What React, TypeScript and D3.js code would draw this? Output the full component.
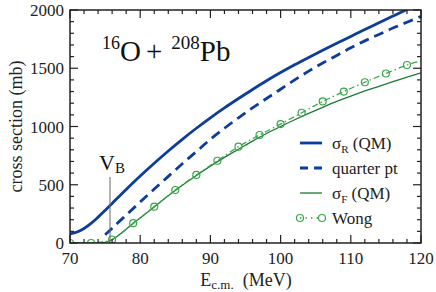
import React, { useEffect, useRef } from "react";
import * as d3 from "d3";

// sigma_R (QM) - thick solid blue
const sigmaRE = [70, 71, 72, 73, 74, 75, 76, 78, 80, 82, 84, 86, 88, 90, 92, 94, 96, 98, 100, 102, 104, 106, 108, 110, 112, 114, 116, 118, 120];
const sigmaR = [78, 95, 125, 168, 222, 280, 340, 460, 575, 685, 790, 890, 985, 1075, 1160, 1240, 1318, 1393, 1463, 1530, 1593, 1654, 1714, 1773, 1832, 1890, 1948, 2005, 2060];

// quarter point recipe - dashed blue
const quarterE = [75, 76, 78, 80, 82, 84, 86, 88, 90, 92, 94, 96, 98, 100, 102, 104, 106, 108, 110, 112, 114, 116, 118, 120];
const quarter = [70, 127, 240, 352, 463, 572, 680, 785, 890, 985, 1075, 1160, 1240, 1320, 1400, 1475, 1545, 1610, 1675, 1735, 1790, 1845, 1895, 1945];

// sigma_F (QM) - thin solid green
const sigmaFE = [70, 72, 74, 75, 76, 77, 78, 79, 80, 82, 84, 86, 88, 90, 92, 94, 96, 98, 100, 102, 104, 106, 108, 110, 112, 114, 116, 118, 120];
const sigmaF = [0, 0, 1, 6, 28, 70, 118, 168, 215, 310, 405, 495, 580, 660, 735, 805, 875, 940, 1000, 1058, 1113, 1165, 1215, 1260, 1305, 1345, 1385, 1423, 1460];

// Wong formula - markers every 3 MeV, line runs to the frame
const wongE = [70, 73, 76, 79, 82, 85, 88, 91, 94, 97, 100, 103, 106, 109, 112, 115, 118];
const wong = [0, 0, 30, 170, 312, 455, 584, 706, 827, 927, 1021, 1118, 1215, 1300, 1380, 1455, 1528];
const wongEndE = 120;
const wongEnd = 1562;

const barrier = 75.7;

const xTicks = [70, 80, 90, 100, 110, 120];
const yTicks = [0, 500, 1000, 1500, 2000];

const blue = "#0c3c9c";
const green = "#1f7a34";
const wongGreen = "#36a848";
const serif = "'Liberation Serif', 'Times New Roman', Times, serif";

export default function App() {
  const ref = useRef<SVGSVGElement>(null);

  useEffect(() => {
    const svg = d3.select(ref.current);
    svg.selectAll("*").remove();

    const left = 70, right = 421, top = 10, bottom = 243;
    const x = d3.scaleLinear().domain([70, 120]).range([left, right]);
    const y = d3.scaleLinear().domain([0, 2000]).range([bottom, top]);

    svg.append("defs").append("clipPath").attr("id", "plot")
      .append("rect").attr("x", left).attr("y", top)
      .attr("width", right - left).attr("height", bottom - top);

    const g = svg.append("g").attr("clip-path", "url(#plot)");

    const line = d3.line<[number, number]>()
      .x((d) => x(d[0]))
      .y((d) => y(d[1]))
      .curve(d3.curveCatmullRom.alpha(0.5));

    const zip = (a: number[], b: number[]) => a.map((v, i) => [v, b[i]] as [number, number]);

    // V_B marker
    svg.append("line")
      .attr("x1", x(barrier)).attr("x2", x(barrier))
      .attr("y1", bottom).attr("y2", 177)
      .attr("stroke", "#666").attr("stroke-width", 1);

    const vb = svg.append("text").attr("x", 99).attr("y", 170)
      .style("font-family", serif).attr("font-size", 22).attr("fill", "#111");
    vb.append("tspan").text("V");
    vb.append("tspan").attr("font-size", 15).attr("dy", 3).text("B");

    g.append("path").attr("d", line(zip(sigmaFE, sigmaF)))
      .attr("fill", "none").attr("stroke", green).attr("stroke-width", 1.3);

    g.append("path").attr("d", line([...zip(wongE, wong), [wongEndE, wongEnd]]))
      .attr("fill", "none").attr("stroke", wongGreen).attr("stroke-width", 1.3)
      .attr("stroke-dasharray", "6,3,1.5,3");

    g.selectAll(".wong").data(zip(wongE, wong)).enter()
      .append("circle").attr("class", "wong")
      .attr("cx", (d) => x(d[0])).attr("cy", (d) => y(d[1]))
      .attr("r", 3.5).attr("fill", "none")
      .attr("stroke", wongGreen).attr("stroke-width", 1.2);

    g.append("path").attr("d", line(zip(quarterE, quarter)))
      .attr("fill", "none").attr("stroke", blue).attr("stroke-width", 2.8)
      .attr("stroke-dasharray", "10,6");

    g.append("path").attr("d", line(zip(sigmaRE, sigmaR)))
      .attr("fill", "none").attr("stroke", blue).attr("stroke-width", 2.8);

    // frame and ticks (inward, on all four sides)
    svg.append("rect").attr("x", left).attr("y", top)
      .attr("width", right - left).attr("height", bottom - top)
      .attr("fill", "none").attr("stroke", "#222").attr("stroke-width", 1.5);

    const ticks = svg.append("g").attr("stroke", "#222").attr("stroke-width", 1.2);
    d3.range(70, 120.1, 2).forEach((e) => {
      const len = e % 10 === 0 ? 8 : 4;
      ticks.append("line").attr("x1", x(e)).attr("x2", x(e)).attr("y1", bottom).attr("y2", bottom - len);
      ticks.append("line").attr("x1", x(e)).attr("x2", x(e)).attr("y1", top).attr("y2", top + len);
    });
    d3.range(0, 2000.1, 100).forEach((s) => {
      const len = s % 500 === 0 ? 8 : 4;
      ticks.append("line").attr("x1", left).attr("x2", left + len).attr("y1", y(s)).attr("y2", y(s));
      ticks.append("line").attr("x1", right).attr("x2", right - len).attr("y1", y(s)).attr("y2", y(s));
    });

    svg.selectAll(".xt").data(xTicks).enter().append("text")
      .attr("x", (d) => x(d)).attr("y", 264)
      .attr("text-anchor", "middle").style("font-family", serif).attr("font-size", 17)
      .attr("fill", "#222").text((d) => d);

    svg.selectAll(".yt").data(yTicks).enter().append("text")
      .attr("x", 64).attr("y", (d) => y(d) + 6)
      .attr("text-anchor", "end").style("font-family", serif).attr("font-size", 17)
      .attr("fill", "#222").text((d) => d);

    // axis titles
    const xl = svg.append("text").attr("x", 246).attr("y", 286)
      .attr("text-anchor", "middle").style("font-family", serif).attr("font-size", 18).attr("fill", "#222");
    xl.append("tspan").text("E");
    xl.append("tspan").attr("font-size", 13).attr("dy", 3).text("c.m.");
    xl.append("tspan").attr("dy", -3).text("\u00a0 (MeV)");

    svg.append("text")
      .attr("transform", `translate(22,${(top + bottom) / 2}) rotate(-90)`)
      .attr("text-anchor", "middle").style("font-family", serif).attr("font-size", 18)
      .attr("fill", "#222").text("cross section (mb)");

    // reaction label
    const title = svg.append("text").attr("x", 102).attr("y", 61)
      .style("font-family", serif).attr("font-size", 29).attr("fill", "#111");
    title.append("tspan").attr("font-size", 18).attr("dy", -12).text("16");
    title.append("tspan").attr("dy", 12).text("O");
    title.append("tspan").attr("dx", 5).text("+");
    title.append("tspan").attr("font-size", 19).attr("dx", 9).attr("dy", -12).text("208");
    title.append("tspan").attr("dy", 12).text("Pb");

    // legend
    const lx0 = 300, lx1 = 322, tx = 332;
    const rows = [143, 168, 193, 218];
    const lg = svg.append("g");
    lg.append("line").attr("x1", lx0).attr("x2", lx1).attr("y1", rows[0]).attr("y2", rows[0])
      .attr("stroke", blue).attr("stroke-width", 2.8);
    lg.append("line").attr("x1", lx0).attr("x2", lx1).attr("y1", rows[1]).attr("y2", rows[1])
      .attr("stroke", blue).attr("stroke-width", 2.8).attr("stroke-dasharray", "8,6");
    lg.append("line").attr("x1", lx0).attr("x2", lx1).attr("y1", rows[2]).attr("y2", rows[2])
      .attr("stroke", green).attr("stroke-width", 1.3);
    lg.append("line").attr("x1", lx0).attr("x2", lx1).attr("y1", rows[3]).attr("y2", rows[3])
      .attr("stroke", wongGreen).attr("stroke-width", 1.3).attr("stroke-dasharray", "1.5,4");
    [lx0, lx1].forEach((cx) => {
      lg.append("circle").attr("cx", cx).attr("cy", rows[3]).attr("r", 3.5)
        .attr("fill", "none").attr("stroke", wongGreen).attr("stroke-width", 1.2);
    });

    const legendText = (row: number) =>
      lg.append("text").attr("x", tx).attr("y", row + 6)
        .style("font-family", serif).attr("font-size", 17).attr("fill", "#222");

    const t0 = legendText(rows[0]);
    t0.append("tspan").text("\u03c3");
    t0.append("tspan").attr("font-size", 11).attr("dy", 4).text("R");
    t0.append("tspan").attr("dy", -4).text(" (QM)");
    legendText(rows[1]).text("quarter pt");
    const t2 = legendText(rows[2]);
    t2.append("tspan").text("\u03c3");
    t2.append("tspan").attr("font-size", 11).attr("dy", 4).text("F");
    t2.append("tspan").attr("dy", -4).text(" (QM)");
    legendText(rows[3]).text("Wong");
  }, []);

  return (
    <svg
      ref={ref}
      width={436}
      height={292}
      style={{ position: "absolute", left: 0, top: 0, background: "#fff" }}
    />
  );
}
